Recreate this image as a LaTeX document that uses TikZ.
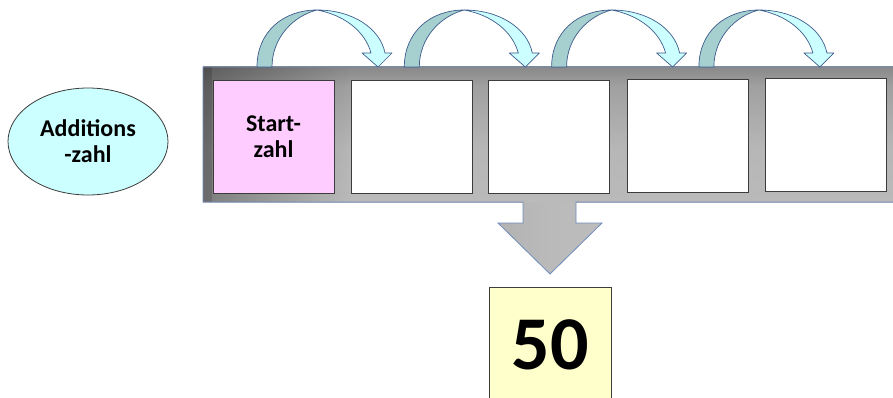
\documentclass[tikz,border=0pt]{standalone}
\usepackage{fontspec}
\setmainfont{Carlito}
\usetikzlibrary{shapes.geometric,fadings}

\definecolor{barline}{RGB}{110,140,190}
\definecolor{bardark}{RGB}{94,94,94}
\definecolor{barmid}{RGB}{160,160,160}
\definecolor{barlight}{RGB}{190,190,190}
\definecolor{cellline}{RGB}{60,60,60}
\definecolor{startpink}{RGB}{255,204,255}
\definecolor{addcyan}{RGB}{204,255,255}
\definecolor{resyellow}{RGB}{255,255,204}
\definecolor{arcback}{RGB}{166,207,207}
\definecolor{arcfront}{RGB}{204,255,255}
\definecolor{arcline}{RGB}{62,92,140}

% tray: dark along the top edge, quickly turning light grey
\pgfdeclareverticalshading{trayshade}{100bp}{
  color(0bp)=(barlight); color(45bp)=(barlight!96!black);
  color(68bp)=(barmid); color(88bp)=(bardark); color(100bp)=(bardark)}
\pgfdeclarehorizontalshading{arrowshade}{100bp}{
  color(0bp)=(barlight!90!black); color(50bp)=(barlight!98!black);
  color(100bp)=(barlight)}

\tikzset{
  cellbox/.style={draw=cellline, line width=0.9pt, fill=white,
    minimum width=121pt, minimum height=113pt, inner sep=0pt},
  labeltext/.style={font=\fontsize{24}{26}\selectfont\bfseries, align=center},
  arcbackpart/.style={fill=arcback, draw=arcline, line width=0.7pt, line join=round},
  arcfrontpart/.style={fill=arcfront, draw=arcline, line width=0.7pt, line join=round},
}

\begin{document}
\begin{tikzpicture}[x=1pt,y=-1pt]
  \useasboundingbox (0,0) rectangle (893,398);
  \clip (0,0) rectangle (893,398);

  % tray with the downward arrow, one outline
  \def\traypath{(203,67) -- (900,67) -- (900,202) -- (576,202) -- (576,223)
    -- (602,223) -- (550,274) -- (498,223) -- (523,223) -- (523,202)
    -- (203,202) -- cycle}
  \shade[shading=arrowshade] (523,201) -- (576,201) -- (576,223)
    -- (602,223) -- (550,274) -- (498,223) -- (523,223) -- cycle;
  \shade[shading=trayshade] (203,67) rectangle (900,202.3);
  \fill[black, opacity=0.32, path fading=east] (203,67) rectangle (350,202);
  \fill[black, opacity=0.15] (203,67) rectangle (212,202);
  \draw[barline, line width=0.8pt, line join=miter] \traypath;

  % the five cells
  \node[cellbox, fill=startpink, labeltext] (c1) at (273.5,136.5) {Start-\\zahl};
  \node[cellbox] (c2) at (411.5,136.5) {};
  \node[cellbox] (c3) at (549,136.5) {};
  \node[cellbox] (c4) at (687.5,136) {};
  \node[cellbox] (c5) at (825.5,135) {};

  % curved jump arrows from cell to cell
  \foreach \k in {0,1,2,3} {
    \begin{scope}[xshift=\k*147.3pt]
      \filldraw[arcbackpart] (257,67) .. controls (257,32) and (283,10) .. (317,10)
        .. controls (293,16) and (272,38) .. (272,67) -- cycle;
      \filldraw[arcfrontpart] (317,10) .. controls (352,10) and (380,28) .. (385,53)
        -- (392,53) -- (378,67) -- (362,53) -- (371,53)
        .. controls (365,31) and (344,15) .. (317,10) -- cycle;
    \end{scope}
  }

  % addend
  \node[ellipse, draw=cellline, line width=0.8pt, fill=addcyan,
        minimum width=160pt, minimum height=107pt, inner sep=0pt, labeltext]
        (add) at (88,141.5) {Additions\\-zahl};

  % result
  \node[draw=cellline, line width=0.9pt, fill=resyellow,
        minimum width=122pt, minimum height=116pt, inner sep=0pt,
        font=\fontsize{76}{80}\selectfont\bfseries] (res) at (550,345) {50};
\end{tikzpicture}
\end{document}
